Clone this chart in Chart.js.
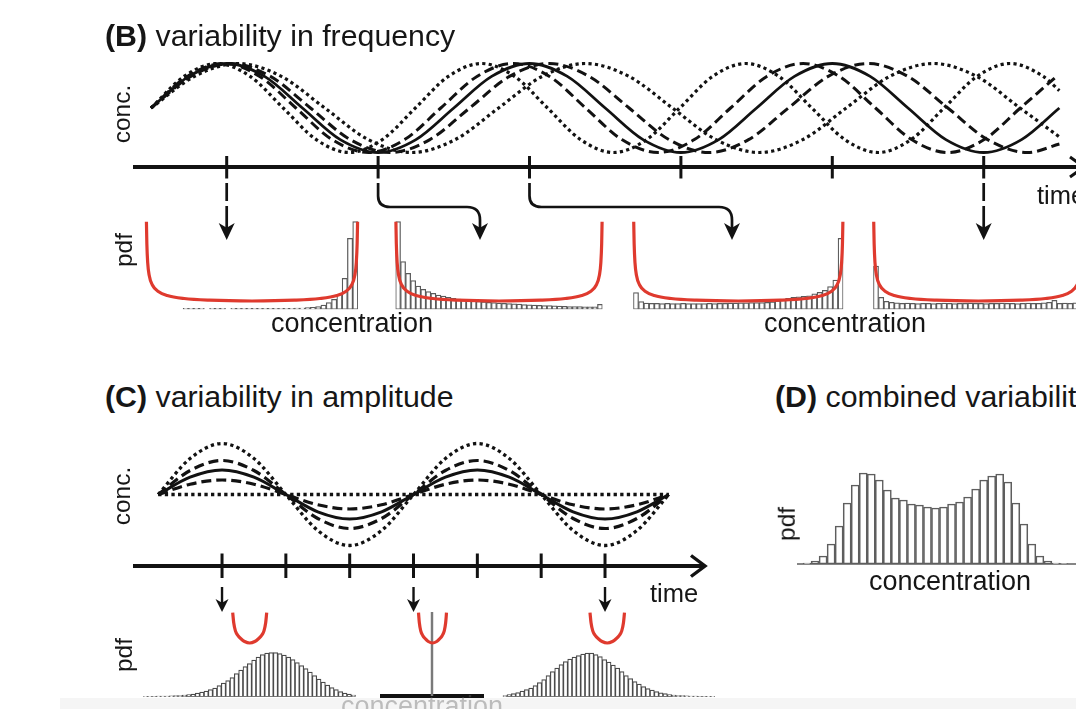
<!DOCTYPE html>
<html><head><meta charset="utf-8">
<script src="https://cdn.jsdelivr.net/npm/chart.js@4.4.1/dist/chart.umd.min.js"></script>
<style>
html,body{margin:0;padding:0;background:#fff;width:1076px;height:709px;overflow:hidden;position:relative;font-family:"Liberation Sans",Arial,Helvetica,sans-serif;color:#161616}
canvas{position:absolute;z-index:1}
.t{position:absolute;white-space:nowrap;line-height:1;z-index:3}
.strip{position:absolute;left:60px;top:698px;width:1016px;height:11px;background:rgba(241,241,241,0.72);z-index:4}
</style></head><body>
<script>
// ---------------- DATA ----------------
// Panel B: time (units of half the reference period) and normalised concentration of five oscillators
const bTimeSolid = [0,0.25,0.5,0.75,1,1.25,1.5,1.75,2,2.25,2.5,2.75,3,3.25,3.5,3.75,4,4.25,4.5,4.75,5,5.25,5.5,5.75,6];
const bConcSolid = [0,.71,1,.71,0,-.71,-1,-.71,0,.71,1,.71,0,-.71,-1,-.71,0,.71,1,.71,0,-.71,-1,-.71,0];
const bTimeDashFast = [0,0.239,0.479,0.718,0.957,1.196,1.436,1.675,1.914,2.153,2.393,2.632,2.871,3.110,3.350,3.589,3.828,4.067,4.307,4.546,4.785,5.024,5.264,5.503,5.742,5.981];
const bConcDashFast = [0,.71,1,.71,0,-.71,-1,-.71,0,.71,1,.71,0,-.71,-1,-.71,0,.71,1,.71,0,-.71,-1,-.71,0,.71];
const bTimeDashSlow = [0,0.263,0.526,0.789,1.053,1.316,1.579,1.842,2.105,2.368,2.631,2.894,3.158,3.421,3.684,3.947,4.210,4.473,4.736,4.999,5.263,5.526,5.789,6.0];
const bConcDashSlow = [0,.71,1,.71,0,-.71,-1,-.71,0,.71,1,.71,0,-.71,-1,-.71,0,.71,1,.71,0,-.71,-1,-.81];
const bTimeDotFast = [0,0.218,0.437,0.655,0.873,1.091,1.310,1.528,1.746,1.964,2.183,2.401,2.619,2.837,3.056,3.274,3.492,3.710,3.929,4.147,4.365,4.583,4.802,5.020,5.238,5.456,5.675,5.893,6.0];
const bConcDotFast = [0,.71,1,.71,0,-.71,-1,-.71,0,.71,1,.71,0,-.71,-1,-.71,0,.71,1,.71,0,-.71,-1,-.71,0,.71,1,.71,.39];
const bTimeDotSlow = [0,0.287,0.574,0.861,1.148,1.435,1.722,2.009,2.296,2.583,2.870,3.157,3.444,3.731,4.018,4.305,4.592,4.879,5.166,5.453,5.740,6.0];
const bConcDotSlow = [0,.71,1,.71,0,-.71,-1,-.71,0,.71,1,.71,0,-.71,-1,-.71,0,.71,1,.71,0,-.65];
const bTickTimes = [0.5,1.5,2.5,3.5,4.5,5.5];

// Panel B: histograms (pdf, arbitrary units) at four sampling times
const bPdf1 = [null,null,null,null,null,null,null,1,1,1,1,null,1,1,1,null,1,1,1,1,1,1,1,1,1,1,1,1,1.1,1.3,1.6,2,2.6,4.3,6.6,10,15,31,71,87.6];
const bPdf2 = [87.6,47.6,36,28.6,23.3,20,17.6,16,14.3,13.3,12,11,10.2,9.5,9,8.5,8,7.5,7,6.6,6.3,6,5.7,5.4,5.1,4.8,4.5,4.2,4,3.8,3.6,3.4,3.2,3,2.8,2.7,2.6,2.5,2.5,2.5,5];
const bPdf3 = [16.6,7.6,6.2,6,6,5.8,6,5.8,5.8,6,5.8,5.6,5.8,5.8,6,5.8,6,6,6.2,6.2,6.4,6.4,6.6,6.8,6.8,7,7.5,8.5,10,11,12,12.5,13,13.5,15.5,17,19,22.6,29.3,71];
const bPdf4 = [43.3,12,8,7,6.5,6,6.2,6,5.8,6,6,5.8,6,6.2,6,5.8,6,6,6.2,6,6,5.8,6,6,6.2,6,6,5.8,6,6.2,6,6,6.5,7,9,6,6.2,6,6.5,7];
// Panel B: red theoretical pdf (arcsine shape), position across the concentration range and height
const bRedConc = [0.002,0.004,0.008,0.015,0.03,0.06,0.1,0.18,0.3,0.5,0.7,0.82,0.9,0.94,0.97,0.985,0.992,0.996,0.998];
const bRedPdf  = [87.6,65.8,46.6,34.1,24.3,17.5,13.8,10.8,9.1,8.3,9.1,10.8,13.8,17.5,24.3,34.1,46.6,65.8,87.6];

// Panel C: time (quarter periods) and concentration for five amplitudes
const cTime = [0,0.5,1,1.5,2,2.5,3,3.5,4,4.5,5,5.5,6,6.5,7,7.5,8];
const cDotBig   = [0,36,51,36,0,-36,-51,-36,0,36,51,36,0,-36,-51,-36,0];
const cDashBig  = [0,24,34,24,0,-24,-34,-24,0,24,34,24,0,-24,-34,-24,0];
const cSolid    = [0,17.3,24.5,17.3,0,-17.3,-24.5,-17.3,0,17.3,24.5,17.3,0,-17.3,-24.5,-17.3,0];
const cDashSmall= [0,10.3,14.5,10.3,0,-10.3,-14.5,-10.3,0,10.3,14.5,10.3,0,-10.3,-14.5,-10.3,0];
const cDotFlat  = [0,0,0,0,0,0,0,0,0,0,0,0,0,0,0,0,0];
const cTickTimes = [1,2,3,4,5,6,7];
const cArrowTicks = [1,4,7];
// Panel C: histograms
const cPdfLeft  = [0.3,0.3,0.4,0.5,0.5,0.6,0.8,1,1.2,1.5,2,2.5,3.5,4.5,5.5,7,8.5,11,13.5,16,19,23,26.5,30,33,36.5,39.5,42,43.5,44,44,43,41.5,39.5,37,34,31,28,24.5,21,17.5,14.5,11.5,9,7,5,3.5,2.5,1.5];
const cPdfRight = [1,2,3,4,5.5,7,8.5,11,14,17,21,25,28.5,32,35,37.5,39.5,41,42.5,43.5,43.5,42,40,37,34.5,31.5,28.5,25,21,18,15,12.5,10,8,6.5,5,3.8,3,2.2,1.6,1.2,1,0.8,0.6,0.5,0.4,0.4,0.3,0.3];
const cPdfMid = [84];
// Panel C: red theoretical pdf (narrow U)
const cRedConc = [0,0.03,0.08,0.15,0.25,0.35,0.5,0.65,0.75,0.85,0.92,0.97,1];
const cRedPdf  = [30,20,12,7.5,4,1.5,0,1.5,4,7.5,12,20,30];

// Panel D: combined histogram
const dPdf = [1,3,8,20,38,61,79,91,90,84,74,66,64,60,59,57,56,57,60,62,67,75,84,88,90,82,61,40,20,8,3,1,0.5];

// ---------------- HELPERS ----------------
const INK = '#121212', RED = '#df3a2e';

function area(x0, y0, x1, y1, p) {
  p = Object.assign({l:6, r:6, t:6, b:6}, p || {});
  const left = Math.floor(x0 - p.l), top = Math.floor(y0 - p.t);
  const width = Math.ceil(x1 + p.r) - left, height = Math.ceil(y1 + p.b) - top;
  return {left, top, width, height,
    padding: {left: x0 - left, top: y0 - top, right: left + width - x1, bottom: top + height - y1}};
}
function makeChart(a, config) {
  const c = document.createElement('canvas');
  c.width = a.width; c.height = a.height;
  c.style.left = a.left + 'px'; c.style.top = a.top + 'px';
  c.style.width = a.width + 'px'; c.style.height = a.height + 'px';
  document.body.appendChild(c);
  config.options = Object.assign({
    responsive: false, animation: false, devicePixelRatio: 1, events: [],
  }, config.options || {});
  config.options.layout = {padding: a.padding};
  config.options.plugins = Object.assign({legend: {display: false}, tooltip: {enabled: false}}, config.options.plugins || {});
  return new Chart(c, config);
}
const originOf = chart => ({x: parseFloat(chart.canvas.style.left), y: parseFloat(chart.canvas.style.top)});
const pts = (xs, ys) => xs.map((x, i) => ({x, y: ys[i]}));
const bins = (vals) => vals.map((v, i) => ({x: (i + 0.5) / vals.length, y: v}));

const hiddenLinear = (min, max) => ({type: 'linear', display: false, min, max, offset: false, ticks: {maxTicksLimit: 2}});

const baselinePlugin = {
  id: 'baseline',
  beforeDatasetsDraw(chart) {
    const o = chart.options.plugins.baseline;
    if (!o || !o.color) return;
    const {ctx, chartArea: a, scales: {y}} = chart;
    const py = y.getPixelForValue(0);
    ctx.save(); ctx.strokeStyle = o.color; ctx.lineWidth = o.width;
    ctx.beginPath(); ctx.moveTo(a.left, py); ctx.lineTo(a.right, py); ctx.stroke(); ctx.restore();
  }
};

function arrowHead(ctx, x, y, len, half) {
  ctx.beginPath();
  ctx.moveTo(x, y);
  ctx.lineTo(x - half, y - len);
  ctx.lineTo(x, y - len * 0.72);
  ctx.lineTo(x + half, y - len);
  ctx.closePath(); ctx.fill();
}

// ---------------- PANEL B : waves ----------------
const waveStyle = {
  solid: {borderDash: [], borderWidth: 2.8},
  dash:  {borderDash: [10, 5], borderWidth: 3},
  dot:   {borderDash: [3.2, 3.3], borderWidth: 3.2},
};
function waveDs(xs, ys, st) {
  return Object.assign({type: 'line', data: pts(xs, ys), borderColor: INK, pointRadius: 0,
    cubicInterpolationMode: 'monotone', fill: false, clip: false, borderCapStyle: 'butt'}, st);
}

const bDecor = {
  id: 'bDecor',
  afterDatasetsDraw(chart) {
    const {ctx, scales: {x}} = chart;
    const o = originOf(chart);
    const X = v => v - o.x, Y = v => v - o.y;
    ctx.save();
    ctx.strokeStyle = INK; ctx.fillStyle = INK;
    ctx.lineWidth = 4;
    ctx.beginPath(); ctx.moveTo(X(133), Y(167)); ctx.lineTo(X(1092), Y(167)); ctx.stroke();
    ctx.lineWidth = 3;
    ctx.beginPath(); ctx.moveTo(X(1070), Y(157)); ctx.lineTo(X(1084), Y(167)); ctx.lineTo(X(1070), Y(177)); ctx.stroke();
    bTickTimes.forEach(t => {
      const px = x.getPixelForValue(t);
      ctx.beginPath(); ctx.moveTo(px, Y(156)); ctx.lineTo(px, Y(178.5)); ctx.stroke();
    });
    ctx.lineWidth = 2.7;
    const straight = [0, 5], curved = [[1, 480], [2, 732]];
    straight.forEach(i => {
      const px = x.getPixelForValue(bTickTimes[i]);
      ctx.beginPath(); ctx.moveTo(px, Y(183)); ctx.lineTo(px, Y(201));
      ctx.moveTo(px, Y(206)); ctx.lineTo(px, Y(230)); ctx.stroke();
      arrowHead(ctx, px, Y(240), 17, 8);
    });
    curved.forEach(([i, tx]) => {
      const px = x.getPixelForValue(bTickTimes[i]);
      const txp = X(tx);
      ctx.beginPath();
      ctx.moveTo(px, Y(183)); ctx.lineTo(px, Y(196));
      ctx.quadraticCurveTo(px, Y(207), px + 12, Y(207));
      ctx.lineTo(txp - 13, Y(207));
      ctx.quadraticCurveTo(txp, Y(207), txp, Y(220));
      ctx.lineTo(txp, Y(230));
      ctx.stroke();
      arrowHead(ctx, txp, Y(240), 17, 8);
    });
    ctx.restore();
  }
};

makeChart(area(151, 63.5, 151 + 151.4 * 6, 152.5, {l: 32, r: 40, t: 14, b: 93}), {
  type: 'line',
  data: {datasets: [
    waveDs(bTimeSolid, bConcSolid, waveStyle.solid),
    waveDs(bTimeDashFast, bConcDashFast, waveStyle.dash),
    waveDs(bTimeDashSlow, bConcDashSlow, waveStyle.dash),
    waveDs(bTimeDotFast, bConcDotFast, waveStyle.dot),
    waveDs(bTimeDotSlow, bConcDotSlow, waveStyle.dot),
  ]},
  options: {scales: {x: hiddenLinear(0, 6), y: {display: false, min: -1, max: 1}}},
  plugins: [bDecor]
});

// ---------------- PANEL B : pdf panels ----------------
function pdfChart(a, vals, redX, redY, ymax, barColor, barWidth) {
  return makeChart(a, {
    type: 'bar',
    data: {datasets: [
      redX ? {type: 'line', data: pts(redX, redY), borderColor: RED, borderWidth: 3.2, pointRadius: 0,
        cubicInterpolationMode: 'monotone', clip: false, order: 0} : null,
      {type: 'bar', data: bins(vals), backgroundColor: '#ffffff', borderColor: barColor,
        borderWidth: barWidth, borderSkipped: false, categoryPercentage: 1, barPercentage: 1, order: 1},
    ].filter(Boolean)},
    options: {scales: {x: hiddenLinear(0, 1), y: {display: false, min: 0, max: ymax}}}
  });
}
pdfChart(area(146, 213.3, 358, 309.3), bPdf1, bRedConc, bRedPdf, 96, '#5a5a5a', 1.25);
pdfChart(area(395.5, 213.3, 602.5, 309.3), bPdf2, bRedConc, bRedPdf, 96, '#5a5a5a', 1.25);
pdfChart(area(633.3, 213.3, 843.3, 309.3), bPdf3, bRedConc, bRedPdf, 96, '#5a5a5a', 1.25);
pdfChart(area(873.3, 213.3, 1083.3, 309.3), bPdf4, bRedConc, bRedPdf, 96, '#5a5a5a', 1.25);

// ---------------- PANEL C : waves ----------------
const cDecor = {
  id: 'cDecor',
  afterDatasetsDraw(chart) {
    const {ctx, scales: {x}} = chart;
    const o = originOf(chart);
    const X = v => v - o.x, Y = v => v - o.y;
    ctx.save();
    ctx.strokeStyle = INK; ctx.fillStyle = INK;
    ctx.lineWidth = 4;
    ctx.beginPath(); ctx.moveTo(X(133), Y(566)); ctx.lineTo(X(703), Y(566)); ctx.stroke();
    ctx.lineWidth = 3.4;
    ctx.beginPath(); ctx.moveTo(X(691), Y(555.5)); ctx.lineTo(X(705), Y(566)); ctx.lineTo(X(691), Y(576.5)); ctx.stroke();
    ctx.lineWidth = 3;
    cTickTimes.forEach(t => {
      const px = x.getPixelForValue(t);
      ctx.beginPath(); ctx.moveTo(px, Y(553.5)); ctx.lineTo(px, Y(578)); ctx.stroke();
    });
    ctx.lineWidth = 2.4;
    cArrowTicks.forEach(t => {
      const px = x.getPixelForValue(t);
      ctx.beginPath(); ctx.moveTo(px, Y(587)); ctx.lineTo(px, Y(603)); ctx.stroke();
      arrowHead(ctx, px, Y(612), 13, 6.5);
    });
    ctx.restore();
  }
};
makeChart(area(158.2, 434.5, 158.2 + 63.83 * 8, 554.5, {l: 30, r: 52, t: 10, b: 66}), {
  type: 'line',
  data: {datasets: [
    waveDs(cTime, cSolid, {borderDash: [], borderWidth: 3}),
    waveDs(cTime, cDashBig, {borderDash: [10, 5], borderWidth: 3.2}),
    waveDs(cTime, cDashSmall, {borderDash: [10, 5], borderWidth: 3.2}),
    waveDs(cTime, cDotBig, {borderDash: [3.3, 3.3], borderWidth: 3.3}),
    waveDs(cTime, cDotFlat, {borderDash: [3.3, 3.3], borderWidth: 3.3}),
  ]},
  options: {scales: {x: hiddenLinear(0, 8), y: {display: false, min: -60, max: 60}}},
  plugins: [cDecor]
});

// ---------------- PANEL C : pdfs ----------------
pdfChart(area(143.3, 600.7, 355.7, 696.7), cPdfLeft, null, null, 96, '#4a4a4a', 1.15);
pdfChart(area(502.7, 600.7, 715, 696.7), cPdfRight, null, null, 96, '#4a4a4a', 1.15);
makeChart(area(380, 612, 484, 696), {
  type: 'bar',
  data: {datasets: [{data: cPdfMid.map(v => ({x: 0.5, y: v})), backgroundColor: '#7a7a7a', barThickness: 1.8, borderWidth: 0}]},
  options: {scales: {x: hiddenLinear(0, 1), y: {display: false, min: 0, max: 84}},
    plugins: {baseline: {color: '#111', width: 3.8}}},
  plugins: [baselinePlugin]
});
function uChart(x0, x1) {
  makeChart(area(x0, 612.7, x1, 643), {
    type: 'line',
    data: {datasets: [{data: pts(cRedConc, cRedPdf), borderColor: RED, borderWidth: 3.2, pointRadius: 0,
      cubicInterpolationMode: 'monotone', clip: false}]},
    options: {scales: {x: hiddenLinear(0, 1), y: {display: false, min: 0, max: 30}}}
  });
}
uChart(232.7, 266.7);
uChart(418.5, 446.5);
uChart(590, 624.5);

// ---------------- PANEL D ----------------
makeChart(area(797, 464, 1076, 564), {
  type: 'bar',
  data: {datasets: [{data: dPdf.map((v, i) => ({x: i + 0.5, y: v})), backgroundColor: '#ffffff', borderColor: '#5e5e5e',
    borderWidth: 1.6, borderSkipped: false, categoryPercentage: 1, barPercentage: 1}]},
  options: {scales: {x: hiddenLinear(-0.75, 34), y: {display: false, min: 0, max: 100}},
    plugins: {baseline: {color: '#5e5e5e', width: 1.6}}},
  plugins: [baselinePlugin]
});

// ---------------- TEXT ----------------
function txt(html, x, baseline, size, center) {
  const d = document.createElement('div'); d.className = 't'; d.innerHTML = html;
  d.style.fontSize = size + 'px';
  d.style.top = (baseline - 0.8465 * size) + 'px';
  d.style.left = x + 'px';
  if (center) d.style.transform = 'translateX(-50%)';
  document.body.appendChild(d);
  return d;
}
function vtxt(text, cx, cy, size) {
  const d = document.createElement('div'); d.className = 't'; d.textContent = text;
  d.style.fontSize = size + 'px'; d.style.left = cx + 'px'; d.style.top = cy + 'px';
  d.style.transform = 'translate(-50%,-50%) rotate(-90deg)';
  document.body.appendChild(d);
}
txt('<b>(B)</b> variability in frequency', 105, 46.5, 30.3);
txt('<b>(C)</b> variability in amplitude', 105, 408, 30.3);
txt('<b>(D)</b> combined variability', 775, 408, 30.3);
vtxt('conc.', 122, 114, 24.5);
vtxt('pdf', 124, 250, 24.5);
vtxt('conc.', 122, 496, 24.5);
vtxt('pdf', 124, 655, 24.5);
vtxt('pdf', 787, 524, 24.5);
txt('concentration', 352, 333, 27, true);
txt('concentration', 845, 333, 27, true);
txt('concentration', 950, 591, 27, true);
txt('time', 1037, 205, 25.5);
txt('time', 650, 603, 25.5);
const cc = txt('concentration', 422, 716, 27, true);
cc.style.color = '#333';
const s = document.createElement('div'); s.className = 'strip'; document.body.appendChild(s);
</script>
</body></html>
